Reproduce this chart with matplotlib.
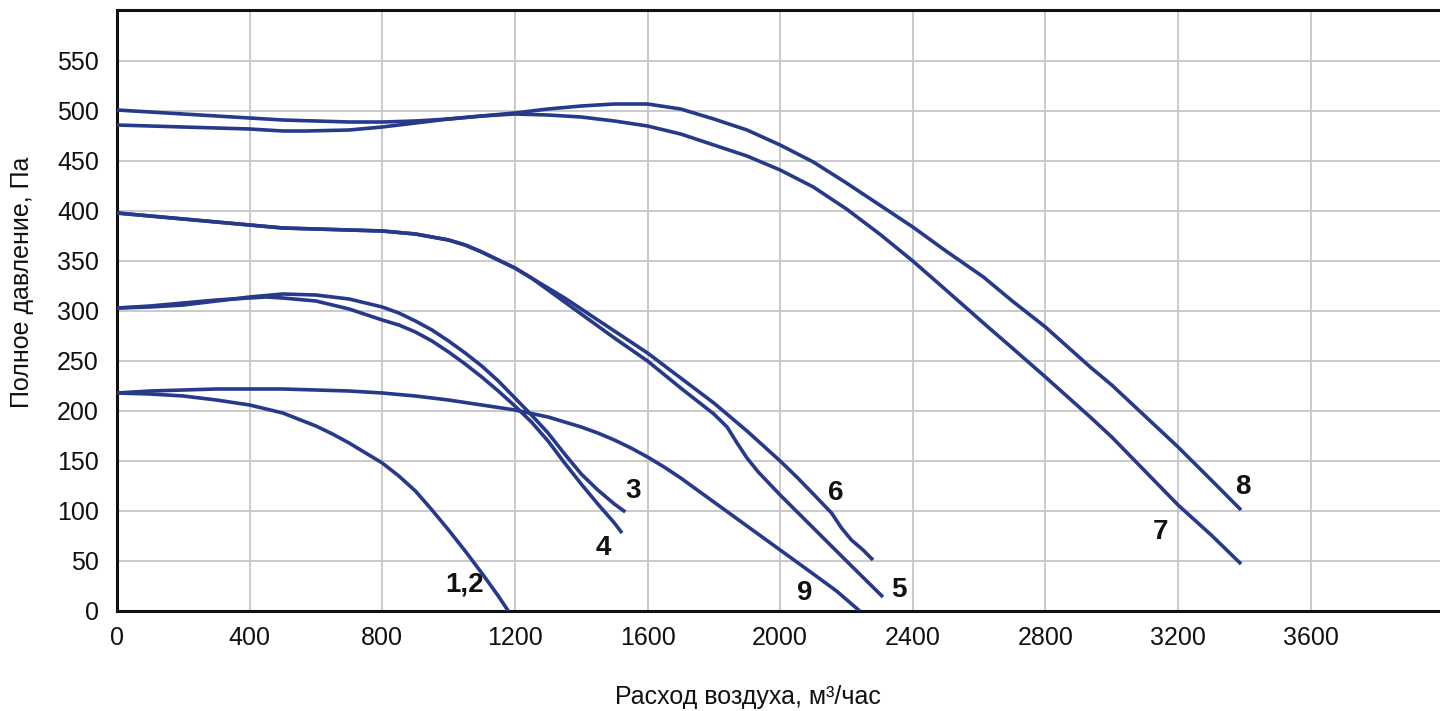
import matplotlib
matplotlib.use("Agg")
import matplotlib.pyplot as plt

plt.rcParams['font.family'] = ['Liberation Sans', 'DejaVu Sans']

# ---- data (x: air flow m3/h, y: total pressure Pa) ----
c12_x = [0, 100, 200, 300, 400, 500, 600, 650, 700, 750, 800, 850, 900, 950, 1000, 1050, 1100, 1150, 1180]
c12_y = [218, 217, 215, 211, 206, 198, 185, 177, 168, 158, 148, 135, 120, 101, 81, 60, 38, 15, 0]

c9_x = [0, 100, 200, 300, 400, 500, 600, 700, 800, 900, 1000, 1100, 1200, 1300, 1400, 1450, 1500,
        1550, 1600, 1650, 1700, 1800, 1900, 2000, 2100, 2170, 2240]
c9_y = [218, 220, 221, 222, 222, 222, 221, 220, 218, 215, 211, 206, 201, 194, 184, 178, 171,
        163, 154, 144, 133, 109, 85, 61, 37, 20, 0]

c3_x = [0, 100, 200, 300, 400, 500, 600, 700, 800, 850, 900, 950, 1000, 1050, 1100, 1150, 1200,
        1250, 1300, 1350, 1400, 1450, 1500, 1533]
c3_y = [303, 304, 306, 310, 314, 317, 316, 312, 304, 298, 290, 281, 270, 258, 245, 230, 213,
        196, 178, 157, 137, 121, 107, 99]

c4_x = [0, 100, 200, 300, 400, 450, 500, 600, 700, 800, 850, 900, 950, 1000, 1050, 1100, 1150,
        1200, 1250, 1300, 1350, 1400, 1450, 1500, 1523]
c4_y = [303, 305, 308, 311, 313, 314, 313, 310, 302, 291, 286, 279, 270, 259, 247, 234, 220,
        205, 189, 170, 148, 127, 107, 88, 78]

c5_x = [0, 100, 200, 300, 400, 500, 600, 700, 800, 900, 1000, 1050, 1100, 1150, 1200, 1250, 1300,
        1350, 1400, 1500, 1600, 1700, 1800, 1840, 1870, 1900, 1934, 2000, 2100, 2200, 2310]
c5_y = [398, 395, 392, 389, 386, 383, 382, 381, 380, 377, 371, 366, 359, 351, 343, 333, 321,
        309, 297, 273, 250, 223, 197, 184, 168, 153, 139, 116, 83, 50, 14]

c6_x = [0, 100, 200, 300, 400, 500, 600, 700, 800, 900, 1000, 1050, 1100, 1150, 1200, 1250, 1300,
        1350, 1400, 1500, 1600, 1700, 1800, 1900, 2000, 2050, 2100, 2155, 2185, 2215, 2250, 2280]
c6_y = [398, 395, 392, 389, 386, 383, 382, 381, 380, 377, 371, 366, 359, 351, 343, 333, 323,
        313, 302, 280, 258, 233, 208, 180, 150, 134, 117, 98, 83, 71, 61, 51]

c7_x = [0, 100, 200, 300, 400, 500, 570, 700, 800, 900, 1000, 1100, 1200, 1300, 1400, 1500, 1600,
        1700, 1800, 1900, 2000, 2100, 2200, 2300, 2400, 2500, 2613, 2700, 2800, 2935, 3000, 3100,
        3200, 3300, 3390]
c7_y = [486, 485, 484, 483, 482, 480, 480, 481, 484, 488, 492, 495, 497, 496, 494, 490, 485,
        477, 466, 455, 441, 424, 402, 377, 350, 321, 288, 263, 234, 194, 174, 140,
        106, 76, 47]

c8_x = [0, 100, 200, 300, 400, 500, 600, 700, 800, 900, 1000, 1100, 1200, 1300, 1400, 1500, 1600,
        1700, 1800, 1900, 2000, 2100, 2200, 2300, 2400, 2500, 2613, 2700, 2800, 2935, 3000, 3100,
        3200, 3300, 3390]
c8_y = [501, 499, 497, 495, 493, 491, 490, 489, 489, 490, 492, 495, 498, 502, 505, 507, 507,
        502, 492, 481, 466, 449, 428, 406, 384, 360, 334, 310, 284, 244, 226, 195,
        164, 131, 101]

label_texts = ["1,2", "3", "4", "9", "6", "5", "7", "8"]
label_x = [1047, 1555, 1466, 2075, 2169, 2358, 3146, 3395]
label_y = [26, 120, 63, 18, 118, 21, 79, 124]

x_ticks = [0, 400, 800, 1200, 1600, 2000, 2400, 2800, 3200, 3600]
y_ticks = [0, 50, 100, 150, 200, 250, 300, 350, 400, 450, 500, 550]

# ---- figure ----
W, H = 1440, 711
fig = plt.figure(figsize=(W / 100, H / 100), dpi=100)
ax = fig.add_axes([117 / W, 100 / H, (W - 117) / W, 601 / H])

line_color = '#27398b'
for xs, ys in [(c12_x, c12_y), (c9_x, c9_y), (c3_x, c3_y), (c4_x, c4_y),
               (c5_x, c5_y), (c6_x, c6_y), (c7_x, c7_y), (c8_x, c8_y)]:
    ax.plot(xs, ys, color=line_color, lw=2.6, solid_capstyle='butt',
            solid_joinstyle='round', zorder=3)

for t, x, y in zip(label_texts, label_x, label_y):
    ax.text(x, y, t, fontsize=20, fontweight='bold', ha='center', va='center',
            color='#111111', zorder=4)

ax.set_xlim(0, 3990)
ax.set_ylim(0, 601)
ax.set_xticks(x_ticks)
ax.set_yticks(y_ticks)
ax.grid(True, color='#c6c6c6', lw=1.3, zorder=0)
ax.set_axisbelow(True)
ax.tick_params(length=0, labelsize=18, colors='#111111')
ax.tick_params(axis='y', pad=13)
ax.tick_params(axis='x', pad=11)

for s in ['left', 'bottom', 'top']:
    ax.spines[s].set_linewidth(2.2)
    ax.spines[s].set_color('#111111')
ax.spines['right'].set_visible(False)

fig.text(22 / W, 1 - 282 / H, 'Полное давление, Па', rotation=90, fontsize=18,
         ha='center', va='center', color='#111111')
fig.text(748 / W, 1 - 697 / H, 'Расход воздуха, м³/час', fontsize=18,
         ha='center', va='center', color='#111111')

fig.savefig('out.png', dpi=100)
